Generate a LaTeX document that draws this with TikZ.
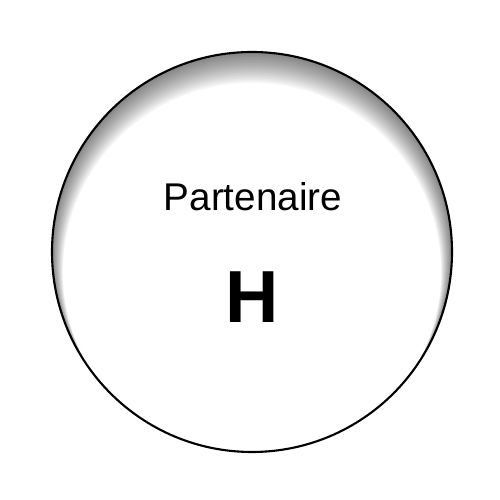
\documentclass[tikz,border=0pt]{standalone}
\usepackage{fontspec}
\setmainfont{Liberation Sans}
\usepackage{tikz}
\usetikzlibrary{calc,positioning}

\begin{document}
\begin{tikzpicture}[x=1cm,y=1cm]
  \useasboundingbox (0,0) rectangle (10,10);
  \coordinate (C) at (5.04,4.96);

  % Indre skygge langs kanten, mest oppe
  \begin{scope}
    \clip (C) circle (4);
    \foreach \k in {1,...,20}
      \fill[black,opacity=0.032,even odd rule]
        (C) circle (4.2) ($(C)+(0,-0.02*\k)$) circle ({4-0.011*\k});
  \end{scope}

  % Sirkel
  \node[circle,draw,line width=1.2pt,minimum size=8cm,inner sep=0pt] (partner) at (C) {};

  % Tekst
  \node[font=\fontsize{22}{26}\selectfont,anchor=base] (title) at (5.06,5.78) {Partenaire};
  \node[font=\fontsize{42}{48}\selectfont\bfseries,anchor=base] (letter) at (5.04,3.54) {H};
\end{tikzpicture}
\end{document}
